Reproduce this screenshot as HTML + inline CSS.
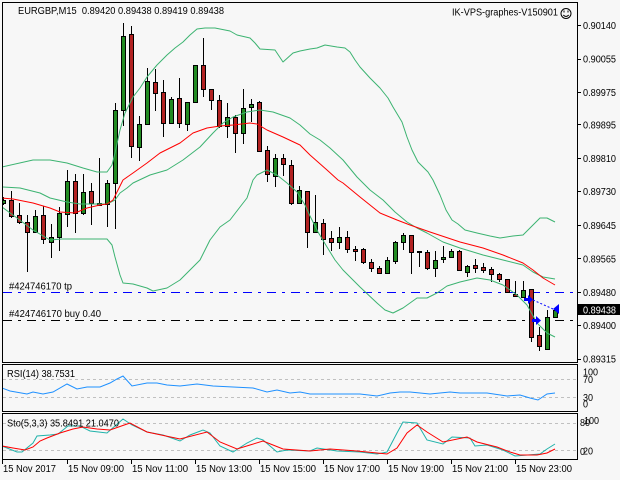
<!DOCTYPE html>
<html><head><meta charset="utf-8"><title>EURGBP,M15</title>
<style>
html,body{margin:0;padding:0;background:#f7f7f7;}
svg{display:block;}
text{font-family:"Liberation Sans",sans-serif;font-size:10px;fill:#000;white-space:pre;}
</style></head>
<body>
<svg width="620" height="480" viewBox="0 0 620 480" xmlns="http://www.w3.org/2000/svg">
<defs>
<clipPath id="cm"><rect x="3" y="3" width="574" height="359"/></clipPath>
<clipPath id="cr"><rect x="3" y="365" width="574" height="46"/></clipPath>
<clipPath id="cs"><rect x="3" y="414" width="574" height="45"/></clipPath>
</defs>
<rect width="620" height="480" fill="#f7f7f7"/>

<!-- main panel -->
<g clip-path="url(#cm)">
<!-- trade lines -->
<line x1="3" y1="292.5" x2="577" y2="292.5" stroke="#0000ff" stroke-width="1" stroke-dasharray="9 6 3 6"/>
<line x1="3" y1="320.5" x2="577" y2="320.5" stroke="#000" stroke-width="1" stroke-dasharray="9 6 3 6"/>

<!-- candles -->
<g stroke="#000" stroke-width="1" shape-rendering="crispEdges">
<line x1="3.5" y1="197" x2="3.5" y2="205"/><rect x="1.5" y="200.5" width="4" height="3" fill="#228b22"/>
<line x1="11.5" y1="191" x2="11.5" y2="218"/><rect x="9.5" y="200.5" width="4" height="16" fill="#b22222"/>
<line x1="19.5" y1="203" x2="19.5" y2="224"/><rect x="17.5" y="215.5" width="4" height="7" fill="#b22222"/>
<line x1="27.5" y1="215" x2="27.5" y2="272"/><rect x="25.5" y="222.5" width="4" height="10" fill="#b22222"/>
<line x1="35.5" y1="210" x2="35.5" y2="233"/><rect x="33.5" y="216.5" width="4" height="16" fill="#228b22"/>
<line x1="43.5" y1="206" x2="43.5" y2="244"/><rect x="41.5" y="215.5" width="4" height="24" fill="#b22222"/>
<line x1="51.5" y1="224" x2="51.5" y2="258"/><rect x="49.5" y="237.5" width="4" height="5" fill="#228b22"/>
<line x1="59.5" y1="207" x2="59.5" y2="251"/><rect x="57.5" y="213.5" width="4" height="24" fill="#228b22"/>
<line x1="67.5" y1="170" x2="67.5" y2="227"/><rect x="65.5" y="181.5" width="4" height="33" fill="#228b22"/>
<line x1="75.5" y1="174" x2="75.5" y2="233"/><rect x="73.5" y="181.5" width="4" height="32" fill="#b22222"/>
<line x1="83.5" y1="174" x2="83.5" y2="215"/><rect x="81.5" y="192.5" width="4" height="21" fill="#228b22"/>
<line x1="91.5" y1="183" x2="91.5" y2="225"/><rect x="89.5" y="191.5" width="4" height="12" fill="#b22222"/>
<line x1="99.5" y1="158" x2="99.5" y2="205"/><rect x="97.5" y="203.5" width="4" height="2" fill="#b22222"/>
<line x1="107.5" y1="180" x2="107.5" y2="227"/><rect x="105.5" y="183.5" width="4" height="21" fill="#228b22"/>
<line x1="115.5" y1="103" x2="115.5" y2="229"/><rect x="113.5" y="110.5" width="4" height="73" fill="#228b22"/>
<line x1="123.5" y1="23" x2="123.5" y2="126"/><rect x="121.5" y="36.5" width="4" height="74" fill="#228b22"/>
<line x1="131.5" y1="26" x2="131.5" y2="158"/><rect x="129.5" y="34.5" width="4" height="112" fill="#b22222"/>
<line x1="139.5" y1="116" x2="139.5" y2="161"/><rect x="137.5" y="124.5" width="4" height="23" fill="#228b22"/>
<line x1="147.5" y1="68" x2="147.5" y2="125"/><rect x="145.5" y="81.5" width="4" height="43" fill="#228b22"/>
<line x1="155.5" y1="69" x2="155.5" y2="111"/><rect x="153.5" y="82.5" width="4" height="11" fill="#b22222"/>
<line x1="163.5" y1="80" x2="163.5" y2="137"/><rect x="161.5" y="92.5" width="4" height="31" fill="#b22222"/>
<line x1="171.5" y1="97" x2="171.5" y2="124"/><rect x="169.5" y="99.5" width="4" height="24" fill="#228b22"/>
<line x1="179.5" y1="78" x2="179.5" y2="128"/><rect x="177.5" y="98.5" width="4" height="25" fill="#b22222"/>
<line x1="187.5" y1="102" x2="187.5" y2="131"/><rect x="185.5" y="102.5" width="4" height="22" fill="#228b22"/>
<line x1="195.5" y1="65" x2="195.5" y2="102"/><rect x="193.5" y="65.5" width="4" height="37" fill="#228b22"/>
<line x1="203.5" y1="38" x2="203.5" y2="97"/><rect x="201.5" y="65.5" width="4" height="24" fill="#b22222"/>
<line x1="211.5" y1="89" x2="211.5" y2="110"/><rect x="209.5" y="89.5" width="4" height="11" fill="#b22222"/>
<line x1="219.5" y1="95" x2="219.5" y2="128"/><rect x="217.5" y="100.5" width="4" height="26" fill="#b22222"/>
<line x1="227.5" y1="103" x2="227.5" y2="138"/><rect x="225.5" y="117.5" width="4" height="9" fill="#228b22"/>
<line x1="235.5" y1="115" x2="235.5" y2="153"/><rect x="233.5" y="117.5" width="4" height="16" fill="#b22222"/>
<line x1="243.5" y1="89" x2="243.5" y2="144"/><rect x="241.5" y="108.5" width="4" height="25" fill="#228b22"/>
<line x1="251.5" y1="99" x2="251.5" y2="122"/><rect x="249.5" y="104.5" width="4" height="3" fill="#228b22"/>
<line x1="259.5" y1="101" x2="259.5" y2="152"/><rect x="257.5" y="102.5" width="4" height="49" fill="#b22222"/>
<line x1="267.5" y1="146" x2="267.5" y2="182"/><rect x="265.5" y="150.5" width="4" height="24" fill="#b22222"/>
<line x1="275.5" y1="154" x2="275.5" y2="187"/><rect x="273.5" y="158.5" width="4" height="18" fill="#228b22"/>
<line x1="283.5" y1="154" x2="283.5" y2="176"/><rect x="281.5" y="158.5" width="4" height="6" fill="#b22222"/>
<line x1="291.5" y1="160" x2="291.5" y2="205"/><rect x="289.5" y="165.5" width="4" height="38" fill="#b22222"/>
<line x1="299.5" y1="186" x2="299.5" y2="203"/><rect x="297.5" y="190.5" width="4" height="13" fill="#228b22"/>
<line x1="307.5" y1="191" x2="307.5" y2="248"/><rect x="305.5" y="191.5" width="4" height="41" fill="#b22222"/>
<line x1="315.5" y1="195" x2="315.5" y2="233"/><rect x="313.5" y="222.5" width="4" height="10" fill="#228b22"/>
<line x1="323.5" y1="219" x2="323.5" y2="255"/><rect x="321.5" y="223.5" width="4" height="16" fill="#b22222"/>
<line x1="331.5" y1="231" x2="331.5" y2="251"/><rect x="329.5" y="238.5" width="4" height="4" fill="#b22222"/>
<line x1="339.5" y1="227" x2="339.5" y2="249"/><rect x="337.5" y="237.5" width="4" height="5" fill="#228b22"/>
<line x1="347.5" y1="231" x2="347.5" y2="253"/><rect x="345.5" y="237.5" width="4" height="12" fill="#b22222"/>
<line x1="355.5" y1="246" x2="355.5" y2="261"/><rect x="353.5" y="249.5" width="4" height="2" fill="#b22222"/>
<line x1="363.5" y1="248" x2="363.5" y2="264"/><rect x="361.5" y="249.5" width="4" height="13" fill="#b22222"/>
<line x1="371.5" y1="259" x2="371.5" y2="272"/><rect x="369.5" y="262.5" width="4" height="6" fill="#b22222"/>
<line x1="379.5" y1="266" x2="379.5" y2="274"/><rect x="377.5" y="268.5" width="4" height="5" fill="#b22222"/>
<line x1="387.5" y1="257" x2="387.5" y2="274"/><rect x="385.5" y="260.5" width="4" height="13" fill="#228b22"/>
<line x1="395.5" y1="241" x2="395.5" y2="264"/><rect x="393.5" y="242.5" width="4" height="19" fill="#228b22"/>
<line x1="403.5" y1="233" x2="403.5" y2="250"/><rect x="401.5" y="235.5" width="4" height="7" fill="#228b22"/>
<line x1="411.5" y1="235" x2="411.5" y2="274"/><rect x="409.5" y="235.5" width="4" height="17" fill="#b22222"/>
<line x1="419.5" y1="251" x2="419.5" y2="267"/><rect x="417.5" y="251.5" width="4" height="1" fill="#b22222"/>
<line x1="427.5" y1="250" x2="427.5" y2="270"/><rect x="425.5" y="252.5" width="4" height="16" fill="#b22222"/>
<line x1="435.5" y1="251" x2="435.5" y2="277"/><rect x="433.5" y="260.5" width="4" height="8" fill="#228b22"/>
<line x1="443.5" y1="246" x2="443.5" y2="263"/><rect x="441.5" y="257.5" width="4" height="2" fill="#228b22"/>
<line x1="451.5" y1="249" x2="451.5" y2="258"/><rect x="449.5" y="251.5" width="4" height="6" fill="#228b22"/>
<line x1="459.5" y1="250" x2="459.5" y2="270"/><rect x="457.5" y="251.5" width="4" height="19" fill="#b22222"/>
<line x1="467.5" y1="265" x2="467.5" y2="277"/><rect x="465.5" y="266.5" width="4" height="6" fill="#228b22"/>
<line x1="475.5" y1="259" x2="475.5" y2="273"/><rect x="473.5" y="265.5" width="4" height="3" fill="#b22222"/>
<line x1="483.5" y1="263" x2="483.5" y2="273"/><rect x="481.5" y="267.5" width="4" height="3" fill="#b22222"/>
<line x1="491.5" y1="267" x2="491.5" y2="282"/><rect x="489.5" y="269.5" width="4" height="5" fill="#b22222"/>
<line x1="499.5" y1="273" x2="499.5" y2="282"/><rect x="497.5" y="274.5" width="4" height="5" fill="#b22222"/>
<line x1="507.5" y1="279" x2="507.5" y2="292"/><rect x="505.5" y="279.5" width="4" height="13" fill="#b22222"/>
<line x1="515.5" y1="281" x2="515.5" y2="297"/><rect x="513.5" y="294.5" width="4" height="2" fill="#b22222"/>
<line x1="523.5" y1="281" x2="523.5" y2="297"/><rect x="521.5" y="290.5" width="4" height="7" fill="#228b22"/>
<line x1="531.5" y1="289" x2="531.5" y2="342"/><rect x="529.5" y="289.5" width="4" height="48" fill="#b22222"/>
<line x1="539.5" y1="327" x2="539.5" y2="351"/><rect x="537.5" y="335.5" width="4" height="11" fill="#b22222"/>
<line x1="547.5" y1="310" x2="547.5" y2="349"/><rect x="545.5" y="317.5" width="4" height="32" fill="#228b22"/>
<line x1="555.5" y1="309" x2="555.5" y2="317"/><rect x="553.5" y="310.5" width="4" height="7" fill="#228b22"/>
</g>

<!-- Bollinger bands & MA -->
<g fill="none" stroke-width="1" stroke-linejoin="round">
<polyline stroke="#3cb371" points="2,167 33,160 50,160 67,163 83,168 97,172 107,172 112,165 115,153 120,130 125,113 133,97 140,88 147,77 157,65 167,55 175,48 183,42 190,35 197,29 205,28 215,28 230,31 237,35 250,38 255,43 260,49 275,50 283,62 293,53 300,51 310,49 317,48 325,45 337,47 345,48 350,52 355,60 360,67 370,78 380,88 388,98 393,107 402,122 407,137 412,150 418,162 428,172 433,180 440,195 446,210 452,220 458,224 465,230 477,233 490,236 500,238 513,236 523,235 530,228 540,218 547,218 555,222"/>
<polyline stroke="#3cb371" points="2,187 20,188 40,193 50,198 67,202 80,204 97,204 107,204 115,200 120,193 127,188 133,183 150,175 167,170 183,160 200,147 213,133 223,123 233,117 247,112 260,110 273,112 290,118 300,125 310,134 320,140 330,148 343,160 357,177 360,180 370,190 383,200 395,212 407,222 417,228 427,233 443,242 460,248 483,255 503,260 523,265 533,272 543,277 555,279"/>
<polyline stroke="#3cb371" points="2,207 17,218 33,230 50,240 62,239 107,239 112,245 115,257 120,275 123,283 133,284 147,288 153,291 167,288 180,280 193,267 200,260 210,240 220,227 230,220 240,207 247,198 253,180 257,175 267,170 277,175 287,183 297,192 305,205 310,216 318,232 327,247 335,260 343,270 360,287 377,303 385,310 393,313 403,308 417,298 427,298 437,293 447,286 460,282 477,278 490,280 503,285 517,295 527,305 537,323 547,333 555,337"/>
<polyline stroke="#ff0000" points="2,198 13,199 33,203 50,208 60,212 75,213 87,208 100,205 107,204 113,200 118,190 123,180 133,173 147,163 160,153 180,143 193,133 207,128 220,126 233,125 250,123 257,124 267,130 283,137 300,145 310,155 327,170 338,180 343,183 360,197 380,213 397,220 410,225 430,232 460,242 483,248 503,255 523,263 533,270 543,278 555,285"/>
</g>

<!-- trade markers -->
<line x1="533" y1="300" x2="553" y2="309" stroke="#0000ff" stroke-width="1" stroke-dasharray="2 2"/>
<polygon points="524,298 528,298 528,295 533,299.5 528,304 528,301 524,301" fill="#0000ff"/>
<polygon points="532,319 536,319 536,316 541,320.5 536,325 536,322 532,322" fill="#0000ff"/>
<polygon points="553,309 559,304 559,314" fill="#0000ff"/>
</g>

<text x="9" y="289.5" textLength="63" lengthAdjust="spacingAndGlyphs">#424746170 tp</text>
<text x="9" y="317" textLength="92" lengthAdjust="spacingAndGlyphs">#424746170 buy 0.40</text>

<!-- main panel border -->
<rect x="2.5" y="2.5" width="575" height="360" fill="none" stroke="#000" stroke-width="1" shape-rendering="crispEdges"/>

<!-- header text -->
<text x="18" y="14" textLength="206" lengthAdjust="spacingAndGlyphs">EURGBP,M15  0.89420 0.89438 0.89419 0.89438</text>
<text x="452" y="15.5" textLength="106" lengthAdjust="spacingAndGlyphs">IK-VPS-graphes-V150901</text>
<g fill="none" stroke="#000" stroke-width="1">
<circle cx="566" cy="13.5" r="5"/>
<path d="M563.3,15 Q566,18 568.7,15"/>
</g>
<rect x="563.5" y="10.5" width="1" height="2" fill="#000"/>
<rect x="567.5" y="10.5" width="1" height="2" fill="#000"/>

<!-- price axis -->
<g stroke="#000" stroke-width="1" shape-rendering="crispEdges">
<line x1="578" y1="25.5" x2="581" y2="25.5"/>
<line x1="578" y1="59.5" x2="581" y2="59.5"/>
<line x1="578" y1="92.5" x2="581" y2="92.5"/>
<line x1="578" y1="124.5" x2="581" y2="124.5"/>
<line x1="578" y1="158.5" x2="581" y2="158.5"/>
<line x1="578" y1="191.5" x2="581" y2="191.5"/>
<line x1="578" y1="225.5" x2="581" y2="225.5"/>
<line x1="578" y1="258.5" x2="581" y2="258.5"/>
<line x1="578" y1="292.5" x2="581" y2="292.5"/>
<line x1="578" y1="325.5" x2="581" y2="325.5"/>
<line x1="578" y1="359.5" x2="581" y2="359.5"/>
</g>
<g>
<text x="583" y="29" textLength="33" lengthAdjust="spacingAndGlyphs">0.90140</text>
<text x="583" y="62.5" textLength="33" lengthAdjust="spacingAndGlyphs">0.90055</text>
<text x="583" y="96" textLength="33" lengthAdjust="spacingAndGlyphs">0.89975</text>
<text x="583" y="128.5" textLength="33" lengthAdjust="spacingAndGlyphs">0.89895</text>
<text x="583" y="162" textLength="33" lengthAdjust="spacingAndGlyphs">0.89810</text>
<text x="583" y="195" textLength="33" lengthAdjust="spacingAndGlyphs">0.89730</text>
<text x="583" y="229" textLength="33" lengthAdjust="spacingAndGlyphs">0.89645</text>
<text x="583" y="262.5" textLength="33" lengthAdjust="spacingAndGlyphs">0.89565</text>
<text x="583" y="296" textLength="33" lengthAdjust="spacingAndGlyphs">0.89480</text>
<text x="583" y="329" textLength="33" lengthAdjust="spacingAndGlyphs">0.89400</text>
<text x="583" y="362.5" textLength="33" lengthAdjust="spacingAndGlyphs">0.89315</text>
</g>
<rect x="578" y="304" width="42" height="11" fill="#000"/>
<text x="583" y="313.5" textLength="33" lengthAdjust="spacingAndGlyphs" style="fill:#fff">0.89438</text>

<!-- RSI panel -->
<g clip-path="url(#cr)">
<line x1="3" y1="379.5" x2="577" y2="379.5" stroke="#c0c0c0" stroke-dasharray="3 3"/>
<line x1="3" y1="397.5" x2="577" y2="397.5" stroke="#c0c0c0" stroke-dasharray="3 3"/>
<polyline fill="none" stroke="#1e90ff" stroke-width="1" points="2,388 10,391 27,394 33,392 43,394 53,392 67,384 77,389 87,387 100,387 110,383 117,379 123,376 132,386 147,383 157,383 167,385 180,386 197,384 213,386 233,387 253,388 267,392 277,390 290,393 300,392 310,394 327,394 360,394 377,396 390,393 400,392 410,392 420,393 430,394 450,392 460,393 487,393 507,396 520,395 530,398 538,400 547,394 555,393"/>
</g>
<rect x="2.5" y="364.5" width="575" height="47" fill="none" stroke="#000" stroke-width="1" shape-rendering="crispEdges"/>
<text x="7" y="377" textLength="68" lengthAdjust="spacingAndGlyphs">RSI(14) 38.7531</text>
<text x="583" y="375.5" textLength="15" lengthAdjust="spacingAndGlyphs">100</text>
<text x="583" y="383" textLength="10" lengthAdjust="spacingAndGlyphs">70</text>
<text x="583" y="401" textLength="10" lengthAdjust="spacingAndGlyphs">30</text>
<text x="583" y="407.5" textLength="5" lengthAdjust="spacingAndGlyphs">0</text>

<!-- Stochastic panel -->
<g clip-path="url(#cs)">
<line x1="3" y1="423.5" x2="577" y2="423.5" stroke="#c0c0c0" stroke-dasharray="3 3"/>
<line x1="3" y1="450.5" x2="577" y2="450.5" stroke="#c0c0c0" stroke-dasharray="3 3"/>
<polyline fill="none" stroke="#20b2aa" stroke-width="1" points="2,446 17,452 22,452 33,443 37,436 50,435 58,434 68,426 80,426 90,431 107,433 123,419 132,425 147,432 163,435 180,441 190,435 203,430 210,433 220,446 233,452 247,443 257,438 263,440 277,452 287,450 310,451 317,448 337,451 360,452 377,454 387,452 397,433 403,422 417,423 427,440 443,444 452,437 470,438 475,446 487,445 503,450 515,456 540,454 547,449 555,444"/>
<polyline fill="none" stroke="#ff0000" stroke-width="1" points="2,446 13,448 25,450 33,447 40,441 47,438 60,433 73,429 83,427 97,429 110,430 130,423 147,432 180,439 207,432 220,442 237,449 250,445 263,441 273,445 283,449 310,451 330,449 357,451 377,453 387,454 397,448 407,433 417,425 427,432 443,442 467,437 477,442 497,447 510,452 520,455 537,455 547,453 555,449"/>
</g>
<rect x="2.5" y="413.5" width="575" height="46" fill="none" stroke="#000" stroke-width="1" shape-rendering="crispEdges"/>
<text x="7" y="426.5" textLength="112" lengthAdjust="spacingAndGlyphs">Sto(5,3,3) 35.8491 21.0470</text>
<text x="580" y="426" textLength="10" lengthAdjust="spacingAndGlyphs">80</text>
<text x="584" y="424" textLength="15" lengthAdjust="spacingAndGlyphs">100</text>
<text x="583" y="454.5" textLength="10" lengthAdjust="spacingAndGlyphs">20</text>
<text x="580" y="455" textLength="5" lengthAdjust="spacingAndGlyphs">0</text>

<!-- time axis -->
<g stroke="#000" stroke-width="1" shape-rendering="crispEdges">
<line x1="2.5" y1="460" x2="2.5" y2="464"/>
<line x1="67.5" y1="460" x2="67.5" y2="464"/>
<line x1="131.5" y1="460" x2="131.5" y2="464"/>
<line x1="195.5" y1="460" x2="195.5" y2="464"/>
<line x1="259.5" y1="460" x2="259.5" y2="464"/>
<line x1="323.5" y1="460" x2="323.5" y2="464"/>
<line x1="387.5" y1="460" x2="387.5" y2="464"/>
<line x1="451.5" y1="460" x2="451.5" y2="464"/>
<line x1="515.5" y1="460" x2="515.5" y2="464"/>
</g>
<text x="3" y="472" textLength="53" lengthAdjust="spacingAndGlyphs">15 Nov 2017</text>
<text x="68" y="472" textLength="56" lengthAdjust="spacingAndGlyphs">15 Nov 09:00</text>
<text x="132" y="472" textLength="56" lengthAdjust="spacingAndGlyphs">15 Nov 11:00</text>
<text x="196" y="472" textLength="56" lengthAdjust="spacingAndGlyphs">15 Nov 13:00</text>
<text x="260" y="472" textLength="56" lengthAdjust="spacingAndGlyphs">15 Nov 15:00</text>
<text x="324" y="472" textLength="56" lengthAdjust="spacingAndGlyphs">15 Nov 17:00</text>
<text x="388" y="472" textLength="56" lengthAdjust="spacingAndGlyphs">15 Nov 19:00</text>
<text x="452" y="472" textLength="56" lengthAdjust="spacingAndGlyphs">15 Nov 21:00</text>
<text x="516" y="472" textLength="56" lengthAdjust="spacingAndGlyphs">15 Nov 23:00</text>
</svg>
</body></html>
